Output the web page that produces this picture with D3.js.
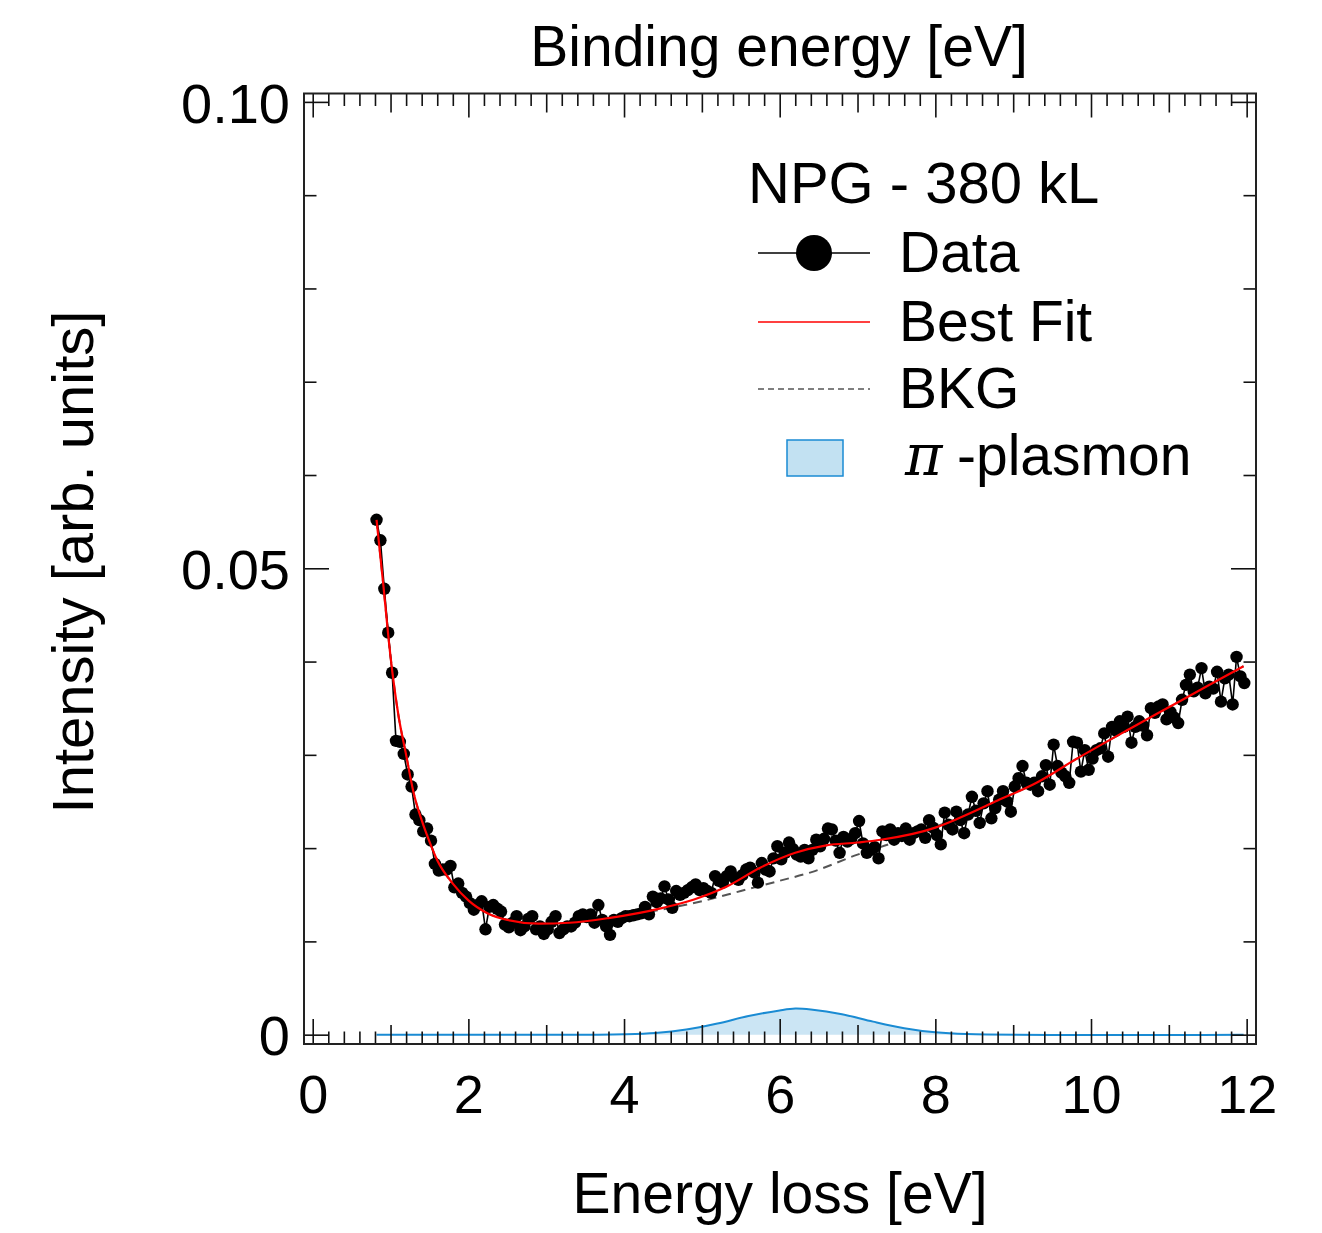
<!DOCTYPE html>
<meta charset="utf-8">
<style>
body { margin: 0; background: #fff; }
text { font-family: "Liberation Sans", Arial, Helvetica, sans-serif; fill: #000; }
.tick text { font-size: 54px; }
</style>
<svg width="1322" height="1233"></svg>
<script src="https://cdn.jsdelivr.net/npm/d3@7"></script>
<script>

// measured spectrum, 0.05 eV grid starting at 0.82 eV
var lossFirst = 0.82, lossStep = 0.05;
var intensity = [
  0.0552, 0.0530, 0.0478, 0.0431, 0.0388, 0.0315, 0.0314, 0.0301, 0.0279, 0.0266,
  0.0236, 0.0230, 0.0218, 0.0221, 0.0208, 0.0183, 0.0176, 0.0177, 0.0177, 0.0181,
  0.0158, 0.0162, 0.0152, 0.0148, 0.0141, 0.0134, 0.0139, 0.0143, 0.0113, 0.0137,
  0.0139, 0.0135, 0.0132, 0.0118, 0.0115, 0.0120, 0.0127, 0.0112, 0.0116, 0.0124,
  0.0127, 0.0113, 0.0116, 0.0108, 0.0113, 0.0121, 0.0127, 0.0109, 0.0113,
  0.0116, 0.0116, 0.0120, 0.0127, 0.0129, 0.0126, 0.0129, 0.0120, 0.0139, 0.0123, 0.0116,
  0.0107, 0.0123, 0.0121, 0.0125, 0.0127, 0.0127, 0.0128, 0.0129, 0.0130, 0.0137,
  0.0129, 0.0148, 0.0142, 0.0146, 0.0159, 0.0145, 0.0136, 0.0154, 0.0150, 0.0152,
  0.0155, 0.0158, 0.0161, 0.0155, 0.0157, 0.0154, 0.0152, 0.0170, 0.0165, 0.0163,
  0.0170, 0.0175, 0.0168, 0.0166, 0.0171, 0.0177, 0.0179, 0.0174, 0.0163, 0.0184,
  0.0177, 0.0175, 0.0189, 0.0202, 0.0188, 0.0195, 0.0206, 0.0199, 0.0193, 0.0191, 0.0198,
  0.0189, 0.0198, 0.0209, 0.0202, 0.0210, 0.0221, 0.0220, 0.0208, 0.0195, 0.0212,
  0.0207, 0.0210, 0.0216, 0.0229, 0.0205, 0.0195, 0.0198, 0.0201, 0.0189, 0.0218,
  0.0214, 0.0220, 0.0209, 0.0216, 0.0213, 0.0221, 0.0209, 0.0216, 0.0218, 0.0220,
  0.0211, 0.0230, 0.0222, 0.0214, 0.0204, 0.0238, 0.0225, 0.0220, 0.0239, 0.0230,
  0.0216, 0.0236, 0.0255, 0.0240, 0.0227, 0.0248, 0.0261, 0.0232, 0.0243, 0.0252,
  0.0261, 0.0250, 0.0239, 0.0266, 0.0275, 0.0288, 0.0270, 0.0268, 0.0270, 0.0261, 0.0277,
  0.0289, 0.0268, 0.0311, 0.0288, 0.0281, 0.0277, 0.0270, 0.0314, 0.0313, 0.0282,
  0.0305, 0.0284, 0.0296, 0.0305, 0.0307, 0.0323, 0.0298, 0.0330, 0.0326, 0.0336,
  0.0330, 0.0341, 0.0313, 0.0330, 0.0336, 0.0331, 0.0321, 0.0350, 0.0345, 0.0352,
  0.0354, 0.0338, 0.0346, 0.0340, 0.0334, 0.0359, 0.0375, 0.0386, 0.0368, 0.0372,
  0.0393, 0.0366, 0.0373, 0.0371, 0.0389, 0.0357, 0.0382, 0.0386, 0.0354, 0.0405, 0.0384, 0.0377
];

// best fit (red)
var fitEnergy = [0.82, 0.9, 1.0, 1.1, 1.2, 1.3, 1.4, 1.5, 1.6, 1.8, 2.0, 2.25, 2.5, 2.9, 3.3, 3.8,
                 4.5, 4.9, 5.3, 5.75, 6.2, 6.6, 7.0, 7.3, 8.0, 8.3, 8.8, 9.3, 9.8, 10.5, 11.0, 11.5, 11.96];
var fitIntensity = [0.0552, 0.0488, 0.0405, 0.0343, 0.0300, 0.0258, 0.0230, 0.0207, 0.0187, 0.0162, 0.0144,
                    0.0130, 0.0123, 0.0119, 0.0120, 0.0125, 0.0136, 0.0145, 0.0158, 0.0179, 0.0195, 0.0203,
                    0.0206, 0.0209, 0.0222, 0.0232, 0.0251, 0.0270, 0.0295, 0.0328, 0.0351, 0.0374, 0.0395];

// background (dashed)
var bkgEnergy = [0.82, 0.9, 1.0, 1.1, 1.2, 1.3, 1.4, 1.5, 1.6, 1.8, 2.0, 2.25, 2.5, 2.9, 3.3, 3.8,
                 4.2, 4.6, 5.0, 5.5, 6.0, 6.4, 7.0, 7.4, 8.0, 8.3, 8.8, 9.3, 9.8, 10.5, 11.0, 11.5, 11.96];
var bkgIntensity = [0.0552, 0.0488, 0.0405, 0.0343, 0.0300, 0.0258, 0.0230, 0.0207, 0.0187, 0.0162, 0.0144,
                    0.0130, 0.0123, 0.0119, 0.0120, 0.0125, 0.0130, 0.0136, 0.0143, 0.0154, 0.0165, 0.0174,
                    0.0193, 0.0204, 0.0223, 0.0232, 0.0251, 0.0270, 0.0295, 0.0328, 0.0351, 0.0374, 0.0395];

// pi-plasmon component
var plasmonEnergy = [0.82, 3.6, 4.0, 4.4, 4.8, 5.2, 5.6, 6.0, 6.2, 6.4, 6.8, 7.2, 7.6, 8.0, 8.4, 11.96];
var plasmonIntensity = [0, 0, 0.00004, 0.00018, 0.00055, 0.0012, 0.0020, 0.0026, 0.0028, 0.0027,
                        0.0022, 0.0014, 0.0007, 0.00025, 0.00006, 0];

var xTickLabels = [0, 2, 4, 6, 8, 10, 12];
var yTickLabels = [0, 0.05, 0.10];
var legendItems = ["Data", "Best Fit", "BKG"];

var svg = d3.select("svg");

// plot frame (window.top is reserved, so prefix these)
var plotL = 304, plotR = 1256, plotT = 93.5, plotB = 1044;

var x = d3.scaleLinear().domain([-0.112, 12.12]).range([plotL, plotR]);
var y = d3.scaleLinear().domain([-0.001, 0.1009]).range([plotB, plotT]);

var plasmonBlue = "#1a8bd3";

var line = d3.line()
    .x(function(d) { return x(d[0]); })
    .y(function(d) { return y(d[1]); });
var smooth = d3.line().curve(d3.curveMonotoneX)
    .x(function(d) { return x(d[0]); })
    .y(function(d) { return y(d[1]); });

function pairs(xs, ys) {
  return xs.map(function(e, i) { return [e, ys[i]]; });
}

// plasmon area
var plasmon = pairs(plasmonEnergy, plasmonIntensity);
svg.append("path")
    .datum(plasmon)
    .attr("fill", "#cbe5f4")
    .attr("d", d3.area().curve(d3.curveCatmullRom)
      .x(function(d) { return x(d[0]); })
      .y0(y(0))
      .y1(function(d) { return y(d[1]); }));
svg.append("path")
    .datum(plasmon)
    .attr("fill", "none")
    .attr("stroke", plasmonBlue)
    .attr("stroke-width", 2)
    .attr("d", line.curve(d3.curveCatmullRom));
line.curve(d3.curveLinear);

// background
svg.append("path")
    .datum(pairs(bkgEnergy, bkgIntensity))
    .attr("fill", "none")
    .attr("stroke", "#555")
    .attr("stroke-width", 2)
    .attr("stroke-dasharray", "9,6")
    .attr("d", smooth);

// data
var data = intensity.map(function(v, i) { return [lossFirst + i * lossStep, v]; });
svg.append("path")
    .datum(data)
    .attr("fill", "none")
    .attr("stroke", "#000")
    .attr("stroke-width", 1.6)
    .attr("d", line);
svg.append("g")
  .selectAll("circle")
  .data(data)
  .enter().append("circle")
    .attr("cx", function(d) { return x(d[0]); })
    .attr("cy", function(d) { return y(d[1]); })
    .attr("r", 6.2)
    .attr("fill", "#000");

// best fit
svg.append("path")
    .datum(pairs(fitEnergy, fitIntensity))
    .attr("fill", "none")
    .attr("stroke", "#f00")
    .attr("stroke-width", 2.2)
    .attr("d", smooth);

// ticks on all four sides, pointing inward
function ticks(axis, pos, vals, len, labels) {
  var g = svg.append("g")
      .attr("transform", pos)
      .call(axis.tickValues(vals).tickSize(-len).tickPadding(14)
        .tickFormat(labels ? labels : function() { return ""; }));
  g.select(".domain").remove();
  g.selectAll(".tick line").attr("stroke", "#111").attr("stroke-width", 1.6);
  return g;
}

var xMinor = d3.range(0, 61).filter(function(k) { return k % 5; }).map(function(k) { return k / 5; });
var xMid = [1, 3, 5, 7, 9, 11];
var yMinor = [0.01, 0.02, 0.03, 0.04, 0.06, 0.07, 0.08, 0.09];
var atB = "translate(0," + plotB + ")", atT = "translate(0," + plotT + ")";
var atL = "translate(" + plotL + ",0)", atR = "translate(" + plotR + ",0)";

ticks(d3.axisBottom(x), atB, xMinor, 12.5);
ticks(d3.axisTop(x), atT, xMinor, 12.5);
ticks(d3.axisBottom(x), atB, xMid, 19);
ticks(d3.axisTop(x), atT, xMid, 19);
ticks(d3.axisTop(x), atT, xTickLabels, 24);
var xLab = ticks(d3.axisBottom(x), atB, xTickLabels, 25, d3.format("d"));
xLab.selectAll(".tick text").attr("y", 69).attr("dy", null);

ticks(d3.axisLeft(y), atL, yMinor, 12.5);
ticks(d3.axisRight(y), atR, yMinor, 12.5);
ticks(d3.axisRight(y), atR, yTickLabels, 25);
var yLab = ticks(d3.axisLeft(y), atL, yTickLabels, 25,
  function(d) { return d === 0 ? "0" : d3.format(".2f")(d); });
yLab.selectAll(".tick text").attr("x", -14).attr("dy", "0.36em").style("font-size", "56px");

// frame
svg.append("rect")
    .attr("x", plotL).attr("y", plotT)
    .attr("width", plotR - plotL).attr("height", plotB - plotT)
    .attr("fill", "none")
    .attr("stroke", "#222")
    .attr("stroke-width", 2);

// axis titles
svg.append("text")
    .attr("x", 780).attr("y", 1213)
    .attr("text-anchor", "middle")
    .attr("font-size", 57)
    .text("Energy loss [eV]");
svg.append("text")
    .attr("x", 779).attr("y", 66)
    .attr("text-anchor", "middle")
    .attr("font-size", 57)
    .text("Binding energy [eV]");
svg.append("text")
    .attr("transform", "translate(93,562) rotate(-90)")
    .attr("text-anchor", "middle")
    .attr("font-size", 58)
    .text("Intensity [arb. units]");

// legend
var lg = svg.append("g");
lg.append("text")
    .attr("x", 748).attr("y", 203)
    .attr("font-size", 58)
    .text("NPG - 380 kL");

var rowY = [253, 322, 389];
legendItems.forEach(function(name, i) {
  lg.append("text")
      .attr("x", 899).attr("y", rowY[i] + 19)
      .attr("font-size", 57)
      .text(name);
});
lg.append("line")
    .attr("x1", 758).attr("x2", 870).attr("y1", rowY[0]).attr("y2", rowY[0])
    .attr("stroke", "#000").attr("stroke-width", 1.5);
lg.append("circle")
    .attr("cx", 814).attr("cy", rowY[0]).attr("r", 18)
    .attr("fill", "#000");
lg.append("line")
    .attr("x1", 758).attr("x2", 870).attr("y1", rowY[1]).attr("y2", rowY[1])
    .attr("stroke", "#f00").attr("stroke-width", 1.5);
lg.append("line")
    .attr("x1", 758).attr("x2", 870).attr("y1", rowY[2]).attr("y2", rowY[2])
    .attr("stroke", "#555").attr("stroke-width", 1.5)
    .attr("stroke-dasharray", "6,4");
lg.append("rect")
    .attr("x", 787).attr("y", 440).attr("width", 56).attr("height", 36)
    .attr("fill", "#c2e1f2")
    .attr("stroke", plasmonBlue).attr("stroke-width", 1.5);
var pl = lg.append("text")
    .attr("y", 475)
    .attr("font-size", 57);
pl.append("tspan")
    .attr("x", 905)
    .attr("font-family", "DejaVu Serif")
    .attr("font-style", "italic")
    .text("π");
pl.append("tspan")
    .attr("x", 957)
    .text("-plasmon");

</script>
